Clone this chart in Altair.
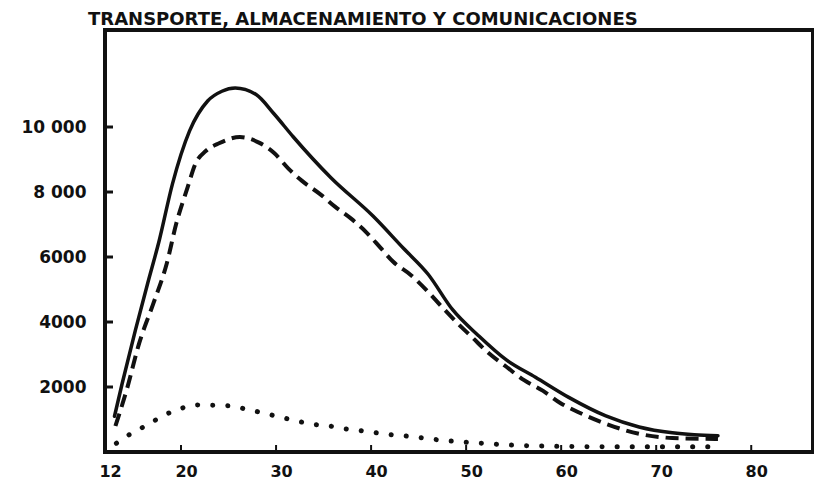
import altair as alt
import pandas as pd

# ---- data ----
title_text = "TRANSPORTE, ALMACENAMIENTO Y COMUNICACIONES"

ages_total = [13.0, 13.8, 15.2, 16.5, 17.7, 19.1, 20.9, 22.8, 24.3, 25.7, 27.9, 29.8,
              31.8, 35.8, 40.2, 43.4, 46.0, 48.6, 51.3, 54.2, 57.3, 60.8, 64.7, 68.2,
              71.7, 74.0, 76.5]
total = [1100, 2100, 3750, 5200, 6500, 8250, 9880, 10800, 11100, 11200, 11000, 10400,
         9700, 8430, 7260, 6270, 5470, 4370, 3580, 2840, 2300, 1680, 1110, 770,
         590, 530, 500]

ages_hombres = [13.1, 14.3, 15.6, 17.1, 18.5, 19.5, 20.7, 21.5, 22.6, 24.0, 26.2, 28.2,
                29.8, 31.3, 32.7, 34.7, 36.2, 37.9, 39.5, 41.0, 42.3, 44.2, 45.9, 47.5,
                49.1, 50.6, 52.3, 54.2, 56.1, 58.1, 59.9, 61.7, 64.6, 68.2, 71.7, 76.5]
hombres = [800, 1930, 3350, 4580, 5800, 7030, 8150, 8860, 9260, 9500, 9690, 9520,
           9200, 8720, 8350, 7920, 7550, 7180, 6760, 6280, 5860, 5440, 4960, 4450,
           3960, 3540, 3060, 2630, 2210, 1880, 1510, 1240, 880, 560, 430, 400]

ages_mujeres = [13.2, 14.3, 15.4, 17.0, 18.5, 20.2, 21.6, 22.9, 25.1, 26.8, 28.5, 30.2,
                32.1, 33.7, 35.4, 37.1, 38.8, 40.3, 41.8, 43.7, 45.6, 47.2, 48.9, 50.5,
                52.0, 53.7, 55.3, 56.8, 58.6, 60.2, 62.0, 66.0, 70.0, 73.0, 76.5]
mujeres = [270, 490, 665, 930, 1170, 1360, 1450, 1440, 1420, 1320, 1210, 1090,
           960, 860, 810, 720, 660, 600, 540, 490, 425, 370, 325, 290,
           265, 230, 205, 190, 180, 170, 165, 160, 160, 160, 160]

y_ticks = [2000, 4000, 6000, 8000, 10000]
y_labels = ["2000", "4000", "6000", "8 000", "10 000"]
x_ticks = [12, 20, 30, 40, 50, 60, 70, 80]

# ---- tables ----
df_t = pd.DataFrame({"edad": ages_total, "valor": total})
df_h = pd.DataFrame({"edad": ages_hombres, "valor": hombres})
df_m = pd.DataFrame({"edad": ages_mujeres, "valor": mujeres})
df_yt = pd.DataFrame({"valor": y_ticks})
df_xt = pd.DataFrame({"edad": x_ticks[1:]})
df_title = pd.DataFrame({"t": [title_text]})

W, H = 708, 422
INK = "#111111"
FONT = "DejaVu Sans"

xscale = alt.Scale(domain=[12, 86.5], nice=False, zero=False)
yscale = alt.Scale(domain=[0, 12985], nice=False)

label_expr = " : ".join(
    f"datum.value == {v} ? '{l}'" for v, l in zip(y_ticks, y_labels)
) + " : ''"

x_axis = alt.Axis(values=x_ticks, tickSize=0, domain=False, grid=False,
                  labelFont=FONT, labelFontWeight="bold", labelFontSize=16,
                  labelColor=INK, labelPadding=11, labelOffset=5,
                  labelFlush=False, title=None)
y_axis = alt.Axis(values=y_ticks, tickSize=0, domain=False, grid=False,
                  labelFont=FONT, labelFontWeight="bold", labelFontSize=17,
                  labelColor=INK, labelPadding=19, labelExpr=label_expr,
                  title=None)

line_t = alt.Chart(df_t).mark_line(
    color=INK, strokeWidth=3.5, interpolate="monotone", strokeCap="round"
).encode(
    x=alt.X("edad:Q", scale=xscale, axis=x_axis),
    y=alt.Y("valor:Q", scale=yscale, axis=y_axis),
)

line_h = alt.Chart(df_h).mark_line(
    color=INK, strokeWidth=4, interpolate="monotone", strokeDash=[13, 7]
).encode(
    x=alt.X("edad:Q", scale=xscale),
    y=alt.Y("valor:Q", scale=yscale),
)

line_m = alt.Chart(df_m).mark_line(
    color=INK, strokeWidth=5, interpolate="monotone", strokeDash=[0.1, 15],
    strokeCap="round"
).encode(
    x=alt.X("edad:Q", scale=xscale),
    y=alt.Y("valor:Q", scale=yscale),
)

yt = alt.Chart(df_yt).mark_rule(color=INK, strokeWidth=3).encode(
    y=alt.Y("valor:Q", scale=yscale),
    x=alt.value(0),
    x2=alt.value(8),
)

xt = alt.Chart(df_xt).mark_rule(color=INK, strokeWidth=2).encode(
    x=alt.X("edad:Q", scale=xscale),
    y=alt.value(H),
    y2=alt.value(H - 7),
)

title_mark = alt.Chart(df_title).mark_text(
    align="left", baseline="alphabetic", font=FONT, fontSize=18,
    fontWeight="bold", color=INK
).encode(
    text="t:N",
    x=alt.value(-17),
    y=alt.value(-5),
)

chart = alt.layer(line_t, line_h, line_m, yt, xt, title_mark).properties(
    width=W,
    height=H,
    padding={"left": 97, "top": 22, "right": 1, "bottom": 28},
    autosize=alt.AutoSizeParams(type="none"),
).configure(
    background="white",
    view=alt.ViewConfig(stroke=INK, strokeWidth=4),
)

chart.save("out.html", embed_options={"renderer": "svg", "actions": False})
